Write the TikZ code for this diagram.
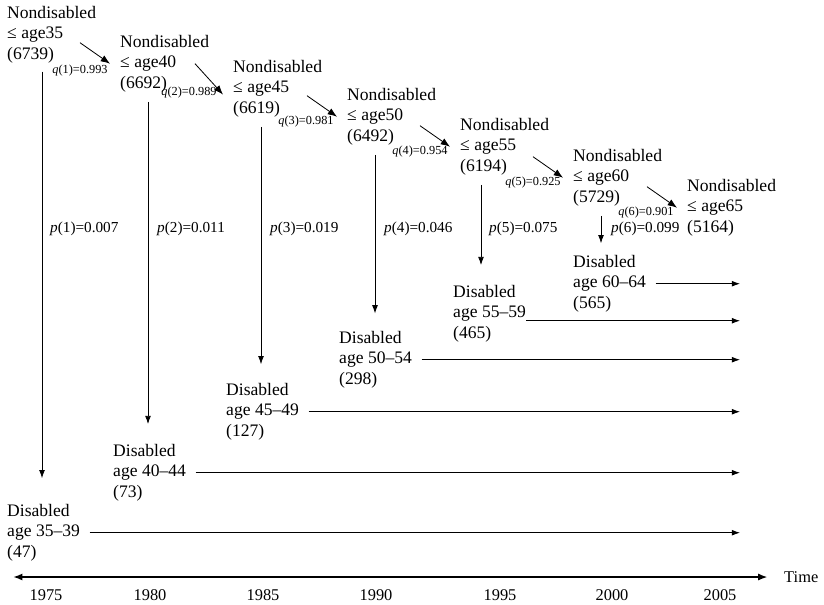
\documentclass[tikz,border=0pt]{standalone}
\usepackage{fontspec}
\setmainfont{Liberation Serif}
\usetikzlibrary{arrows.meta}

\begin{document}
\begin{tikzpicture}
[x=0.03cm, y=-0.03cm,
 box/.style={align=left, anchor=north west, inner sep=0pt, font=\fontsize{15}{17.5}\selectfont},
 qlab/.style={inner sep=0pt, font=\fontsize{10.5}{12}\selectfont},
 plab/.style={anchor=west, inner sep=0pt, font=\fontsize{13}{15}\selectfont},
 yr/.style={inner sep=0pt, font=\fontsize{14}{16}\selectfont},
 arr/.style={-{Latex[length=7pt,width=5pt]}, line width=0.7pt},
 darr/.style={-{Latex[length=8pt,width=6pt]}, line width=0.7pt}]

\useasboundingbox (0,0) rectangle (824,604);

\node[box] (n1) at (7,6) {Nondisabled \\ ≤ age35 \\ (6739)};
\node[box] (n2) at (120,35) {Nondisabled \\ ≤ age40 \\ (6692)};
\node[box] (n3) at (233,60) {Nondisabled \\ ≤ age45 \\ (6619)};
\node[box] (n4) at (347,88) {Nondisabled \\ ≤ age50 \\ (6492)};
\node[box] (n5) at (460,118) {Nondisabled \\ ≤ age55 \\ (6194)};
\node[box] (n6) at (573,149) {Nondisabled \\ ≤ age60 \\ (5729)};
\node[box] (n7) at (687,179) {Nondisabled \\ ≤ age65 \\ (5164)};

\node[box] (d1) at (7,504) {Disabled \\ age 35–39 \\ (47)};
\node[box] (d2) at (113,444) {Disabled \\ age 40–44 \\ (73)};
\node[box] (d3) at (226,383) {Disabled \\ age 45–49 \\ (127)};
\node[box] (d4) at (339,331) {Disabled \\ age 50–54 \\ (298)};
\node[box] (d5) at (453,285) {Disabled \\ age 55–59 \\ (465)};
\node[box] (d6) at (573,255) {Disabled \\ age 60–64 \\ (565)};

\node[qlab] (q1) at (80,71) {\textit{q}(1)=0.993};
\node[qlab] (q2) at (189,93) {\textit{q}(2)=0.989};
\node[qlab] (q3) at (306,122) {\textit{q}(3)=0.981};
\node[qlab] (q4) at (420,152) {\textit{q}(4)=0.954};
\node[qlab] (q5) at (533,183) {\textit{q}(5)=0.925};
\node[qlab] (q6) at (646,213) {\textit{q}(6)=0.901};

\node[plab] (p1) at (50,229) {\textit{p}(1)=0.007};
\node[plab] (p2) at (157,229) {\textit{p}(2)=0.011};
\node[plab] (p3) at (270,229) {\textit{p}(3)=0.019};
\node[plab] (p4) at (384,229) {\textit{p}(4)=0.046};
\node[plab] (p5) at (489,229) {\textit{p}(5)=0.075};
\node[plab] (p6) at (611,229) {\textit{p}(6)=0.099};

% staying nondisabled
\draw[darr] ([shift={(-40,-21)}]n2.west) -- ([xshift=-8.5pt]n2.west);
\draw[darr] ([shift={(-38,-25)}]n3.west) -- ([xshift=-8.5pt,yshift=-5pt]n3.west);
\draw[darr] ([shift={(-40,-21)}]n4.west) -- ([xshift=-8.5pt]n4.west);
\draw[darr] ([shift={(-40,-21)}]n5.west) -- ([xshift=-8.5pt]n5.west);
\draw[darr] ([shift={(-40,-21)}]n6.west) -- ([xshift=-8.5pt]n6.west);
\draw[darr] ([shift={(-40,-21)}]n7.west) -- ([xshift=-8.5pt]n7.west);

% becoming disabled
\draw[arr, shorten <=7pt, shorten >=22pt] (n1.south -| 42,0) -- (d1.north -| 42,0);
\draw[arr, shorten <=8pt, shorten >=17pt] (n2.south -| 148,0) -- (d2.north -| 148,0);
\draw[arr, shorten <=8pt, shorten >=16pt] (n3.south -| 261,0) -- (d3.north -| 261,0);
\draw[arr, shorten <=8pt, shorten >=15pt] (n4.south -| 375,0) -- (d4.north -| 375,0);
\draw[arr, shorten <=8pt, shorten >=17pt] (n5.south -| 481,0) -- (d5.north -| 481,0);
\draw[arr, shorten <=8pt, shorten >=10pt] (n6.south -| 601,0) -- (d6.north -| 601,0);

% followed up to the end
\coordinate (e) at (740,0);
\draw[arr, shorten <=8pt] (d1.east) -- (d1.east -| e);
\draw[arr, shorten <=8pt] (d2.east) -- (d2.east -| e);
\draw[arr, shorten <=8pt] (d3.east) -- (d3.east -| e);
\draw[arr, shorten <=8pt] (d4.east) -- (d4.east -| e);
\draw[arr] ([yshift=-6pt]d5.east) -- ([yshift=-6pt]d5.east -| e);
\draw[arr, shorten <=8pt] (d6.east) -- (d6.east -| e);

% time axis
\node[yr, anchor=west] (time) at (784,577) {Time};
\coordinate (t0) at (13,577);
\draw[{Latex[length=8pt,width=6pt]}-{Latex[length=8pt,width=6pt]}, line width=1.5pt, shorten >=14pt] (t0) -- (time.west);
\node[yr] (y1) at (46,595) {1975};
\node[yr] (y2) at (150,595) {1980};
\node[yr] (y3) at (263,595) {1985};
\node[yr] (y4) at (376,595) {1990};
\node[yr] (y5) at (500,595) {1995};
\node[yr] (y6) at (612,595) {2000};
\node[yr] (y7) at (720,595) {2005};
\end{tikzpicture}
\end{document}
